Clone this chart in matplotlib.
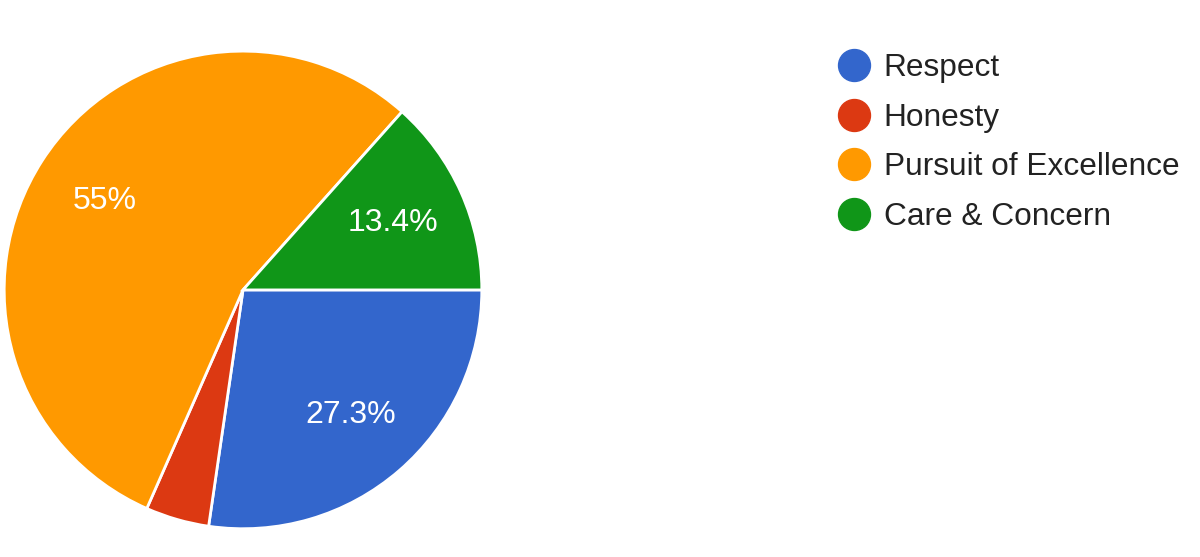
import matplotlib
matplotlib.use("Agg")
import matplotlib.pyplot as plt
from matplotlib.lines import Line2D

plt.rcParams['font.family'] = ['Liberation Sans', 'DejaVu Sans']

categories = ["Respect", "Honesty", "Pursuit of Excellence", "Care & Concern"]
values = [27.3, 4.3, 55.0, 13.4]
colors = ["#3366CC", "#DC3912", "#FF9900", "#109618"]

fig = plt.figure(figsize=(12, 5.57), dpi=100)
ax = fig.add_axes([0.0025, 0.0485, 0.4, 0.862])

def fmt(p):
    if p < 5:
        return ""
    return "{:g}%".format(round(p, 1))

wedges, texts, autotexts = ax.pie(
    values, colors=colors, startangle=0, counterclock=False,
    autopct=fmt, pctdistance=0.69,
    wedgeprops=dict(edgecolor="white", linewidth=2),
    textprops=dict(color="white", fontsize=23),
)
ax.set_xlim(-1.005, 1.005)
ax.set_ylim(-1.005, 1.005)
ax.set_aspect("equal")

handles = [Line2D([0], [0], marker="o", linestyle="", markersize=23,
                  markerfacecolor=c, markeredgecolor=c) for c in colors]
fig.legend(handles, categories, loc="upper left", bbox_to_anchor=(0.677, 0.95),
           frameon=False, fontsize=22.8, handletextpad=0.45, labelspacing=0.62,
           handlelength=1.0, labelcolor="#222222", borderpad=0.3)

fig.savefig("out.png", dpi=100)
